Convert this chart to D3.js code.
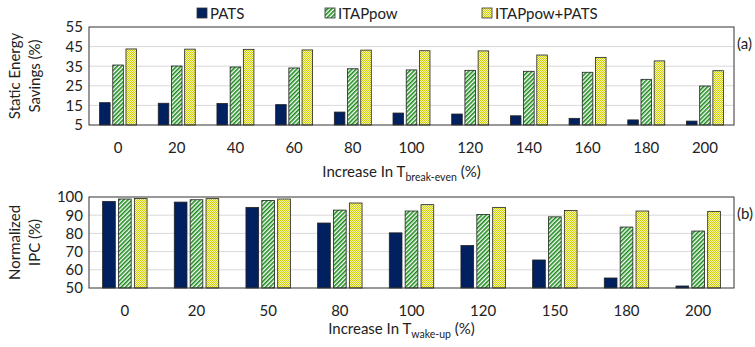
<!DOCTYPE html>
<html>
<head>
<meta charset="utf-8">
<script src="https://cdn.jsdelivr.net/npm/d3@7"></script>
<style>
  body { margin: 0; background: #fff; }
  svg text { font-family: Lato, "Open Sans", sans-serif; fill: #222; }
</style>
</head>
<body>
<div id="chart"></div>
<script>
// data
var seriesNames = ["PATS", "ITAPpow", "ITAPpow+PATS"];

var breakEven = ["0", "20", "40", "60", "80", "100", "120", "140", "160", "180", "200"];
var savPATS    = [16.4, 16.1, 16.0, 15.4, 11.6, 11.1, 10.6, 9.7, 8.4, 7.6, 7.0];
var savITAP    = [35.6, 35.1, 34.6, 34.1, 33.7, 33.1, 32.9, 32.4, 31.9, 28.3, 24.9];
var savBoth    = [43.8, 43.7, 43.6, 43.3, 43.2, 42.9, 42.8, 40.7, 39.5, 37.7, 32.7];
var savTicks   = [5, 15, 25, 35, 45, 55];

var wakeUp  = ["0", "20", "50", "80", "100", "120", "150", "180", "200"];
var ipcPATS = [97.6, 97.2, 94.3, 85.7, 80.3, 73.3, 65.4, 55.5, 51.1];
var ipcITAP = [98.9, 98.5, 98.1, 92.8, 92.3, 90.4, 89.1, 83.5, 81.3];
var ipcBoth = [99.2, 99.1, 98.9, 96.7, 95.8, 94.3, 92.6, 92.3, 92.1];
var ipcTicks = [50, 60, 70, 80, 90, 100];

var W = 755, H = 347;
var FS = "15px";

var svg = d3.select("#chart").append("svg")
  .attr("width", W)
  .attr("height", H);

// patterns
var defs = svg.append("defs");
var hatch = defs.append("pattern")
  .attr("id", "hatch")
  .attr("patternUnits", "userSpaceOnUse")
  .attr("width", 3).attr("height", 3)
  .attr("patternTransform", "rotate(45)");
hatch.append("rect").attr("width", 3).attr("height", 3).attr("fill", "#fff");
hatch.append("rect").attr("width", 1.6).attr("height", 3).attr("fill", "#1a8a1a");

var check = defs.append("pattern")
  .attr("id", "check")
  .attr("patternUnits", "userSpaceOnUse")
  .attr("width", 2).attr("height", 2);
check.append("rect").attr("width", 2).attr("height", 2).attr("fill", "#f8f8a8");
check.append("rect").attr("width", 1).attr("height", 1).attr("fill", "#cccc10");
check.append("rect").attr("x", 1).attr("y", 1).attr("width", 1).attr("height", 1).attr("fill", "#cccc10");

var fills = ["#002060", "url(#hatch)", "url(#check)"];

// legend
var legX = [197, 325, 482];
seriesNames.forEach(function(name, i) {
  svg.append("rect")
    .attr("x", legX[i]).attr("y", 8)
    .attr("width", 10).attr("height", 10)
    .attr("fill", fills[i])
    .attr("stroke", "#333").attr("stroke-width", 0.8);
  svg.append("text")
    .attr("x", legX[i] + 13).attr("y", 18.5)
    .style("font-size", FS)
    .text(name);
});

function panel(opts) {
  var g = svg.append("g");
  var x = d3.scaleBand()
    .domain(opts.cats)
    .range([opts.left, opts.right])
    .paddingInner(opts.padIn)
    .paddingOuter(opts.padOut);
  var xs = d3.scaleBand()
    .domain(seriesNames)
    .range([0, x.bandwidth()])
    .paddingInner(0.2);
  var y = d3.scaleLinear()
    .domain(opts.domain)
    .range([opts.bottom, opts.top]);

  // gridlines
  g.append("g").selectAll("line")
    .data(opts.ticks.slice(1, -1))
    .join("line")
      .attr("x1", opts.left).attr("x2", opts.right)
      .attr("y1", function(d) { return y(d); })
      .attr("y2", function(d) { return y(d); })
      .attr("stroke", "#d9d9d9");

  // bars
  var vals = [opts.a, opts.b, opts.c];
  seriesNames.forEach(function(s, si) {
    g.append("g").selectAll("rect")
      .data(vals[si])
      .join("rect")
        .attr("x", function(d, i) { return x(opts.cats[i]) + xs(s); })
        .attr("y", function(d) { return y(d); })
        .attr("width", xs.bandwidth())
        .attr("height", function(d) { return opts.bottom - y(d); })
        .attr("fill", fills[si])
        .attr("stroke", "#222").attr("stroke-width", 0.8);
  });

  // frame
  g.append("rect")
    .attr("x", opts.left).attr("y", opts.top)
    .attr("width", opts.right - opts.left)
    .attr("height", opts.bottom - opts.top)
    .attr("fill", "none").attr("stroke", "#333").attr("stroke-width", 1);

  // y axis
  var ya = g.append("g")
    .attr("transform", "translate(" + (opts.left - 6) + ",0)")
    .call(d3.axisLeft(y).tickValues(opts.ticks).tickSize(0).tickPadding(0));
  ya.select(".domain").remove();
  ya.selectAll("text").style("font-size", FS).style("font-family", "Lato, sans-serif").attr("fill", "#222");

  // x axis
  var xa = g.append("g")
    .attr("transform", "translate(0," + opts.bottom + ")")
    .call(d3.axisBottom(x).tickSize(0).tickPadding(opts.xpad));
  xa.select(".domain").remove();
  xa.selectAll("text").style("font-size", FS).style("font-family", "Lato, sans-serif").attr("fill", "#222");

  // x title with subscript
  var t = g.append("text")
    .attr("x", (opts.left + opts.right) / 2 - 10)
    .attr("y", opts.titleY)
    .attr("text-anchor", "middle")
    .style("font-size", FS);
  t.append("tspan").text("Increase In T");
  t.append("tspan").attr("dy", 4).style("font-size", "10.5px").text(opts.sub);
  t.append("tspan").attr("dy", -4).text(" (%)");

  // y title, two lines
  opts.ylab.forEach(function(line, i) {
    g.append("text")
      .attr("transform", "translate(" + (19.5 + i * 20.5) + "," + ((opts.top + opts.bottom) / 2) + ") rotate(-90)")
      .attr("text-anchor", "middle")
      .style("font-size", FS)
      .text(line);
  });

  // panel tag
  g.append("text")
    .attr("x", opts.right + 3).attr("y", opts.top + 22)
    .style("font-size", FS)
    .text(opts.tag);
}

panel({
  cats: breakEven, a: savPATS, b: savITAP, c: savBoth,
  domain: [5, 55], ticks: savTicks,
  left: 89, right: 734, top: 27, bottom: 125,
  padIn: 0.37, padOut: 0.18, xpad: 17, titleY: 177,
  sub: "break-even", ylab: ["Static Energy", "Savings (%)"], tag: "(a)"
});

panel({
  cats: wakeUp, a: ipcPATS, b: ipcITAP, c: ipcBoth,
  domain: [50, 100], ticks: ipcTicks,
  left: 89, right: 734, top: 197, bottom: 288,
  padIn: 0.38, padOut: 0.19, xpad: 17, titleY: 334,
  sub: "wake-up", ylab: ["Normalized", "IPC (%)"], tag: "(b)"
});

// captions cut off at the bottom edge, as in the source figure
svg.append("text").attr("x", 0).attr("y", 359).style("font-size", FS).text("(a) Effect of increasing T break-even");
svg.append("text").attr("x", 380).attr("y", 359).style("font-size", FS).text("(b) Effect of increasing T wake-up");
</script>
</body>
</html>
